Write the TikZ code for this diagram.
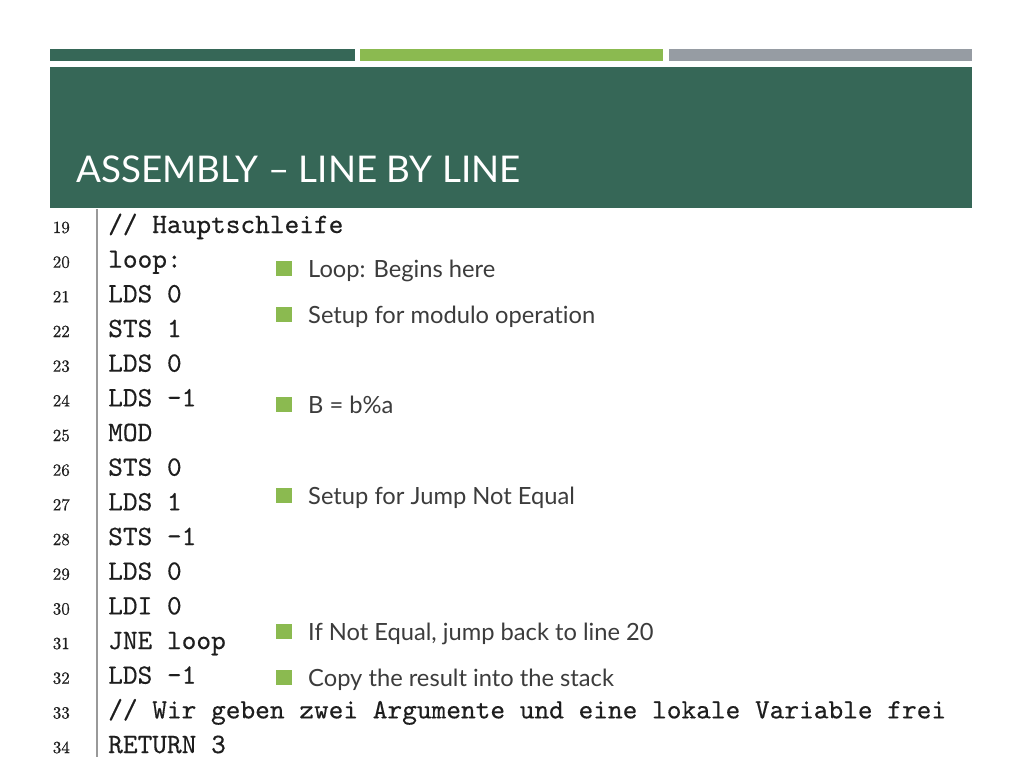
\documentclass[tikz,border=0pt]{standalone}
\usepackage{fontspec}
\newfontfamily\gill[Ligatures=NoCommon]{Lato}
\newfontfamily\codefont[FakeBold=0.35]{lmmono10-regular.otf}
\newfontfamily\numfont[FakeBold=0.6]{lmroman10-regular.otf}
\definecolor{hdr}{RGB}{54,103,87}
\definecolor{lgreen}{RGB}{139,186,80}
\definecolor{gbar}{RGB}{150,156,163}
\definecolor{btxt}{RGB}{60,60,60}
\definecolor{code}{RGB}{30,30,30}
\begin{document}
\begin{tikzpicture}[x=1pt,y=-1pt,
  codeline/.style={anchor=base west,inner sep=0pt,text=code,font=\fontsize{28.0}{30}\selectfont\codefont},
  lnum/.style={anchor=base east,inner sep=0pt,text=code,font=\fontsize{17}{18}\selectfont\numfont},
  btext/.style={anchor=base west,inner sep=0pt,text=btxt,font=\fontsize{23.7}{26}\selectfont\gill},
  bsq/.style={fill=lgreen,draw=none}]
\useasboundingbox (0,0) rectangle (1024,768);
\fill[white] (0,0) rectangle (1024,768);
% top bars
\fill[hdr] (50,49) rectangle (355,61);
\fill[lgreen] (360,49) rectangle (663,61);
\fill[gbar] (669,49) rectangle (972,61);
% header
\fill[hdr] (50,67) rectangle (972,208);
\node[anchor=base west,inner sep=0pt,text=white,font=\fontsize{36.8}{40}\selectfont\gill] (title) at (76,182) {ASSEMBLY – LINE BY LINE};
% vertical rule
\draw[gray!80,line width=1.6pt] (97,209) -- (97,757);
% code lines
\foreach \n/\t [count=\i from 0] in {19/{// Hauptschleife},20/{loop:},21/{LDS 0},22/{STS 1},23/{LDS 0},24/{LDS -1},25/{MOD},26/{STS 0},27/{LDS 1},28/{STS -1},29/{LDS 0},30/{LDI 0},31/{JNE loop},32/{LDS -1},33/{// Wir geben zwei Argumente und eine lokale Variable frei},34/{RETURN 3}}{
  \node[lnum] (n\n) at (70,{233+34.67*\i}) {\n};
  \node[codeline] (c\n) at (108,{233+34.67*\i}) {\t};
}
% bullets
\foreach \y/\t/\k in {277/{Loop: Begins here}/1,323/{Setup for modulo operation}/2,413/{B = b\%a}/3,504/{Setup for Jump Not Equal}/4,640/{If Not Equal, jump back to line 20}/5,686/{Copy the result into the stack}/6}{
  \fill[bsq] (276,{\y-16}) rectangle (292,{\y-1});
  \node[btext] (b\k) at (308,\y) {\t};
}
\end{tikzpicture}
\end{document}
